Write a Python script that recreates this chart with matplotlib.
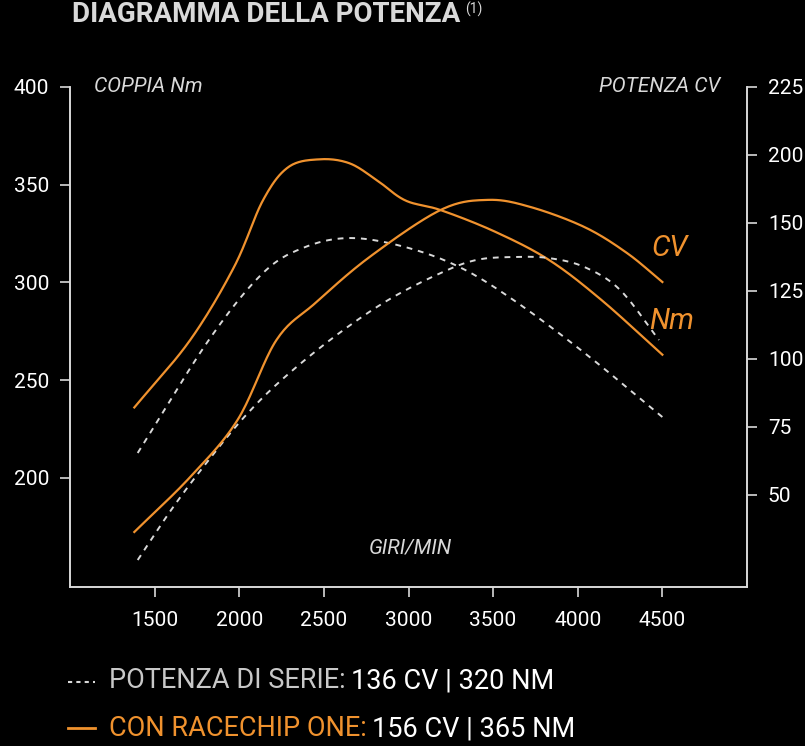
import numpy as np
import matplotlib
matplotlib.use("Agg")
import matplotlib.pyplot as plt

# Data
rpm_nm_tuned = [1380, 1710, 1970, 2140, 2290, 2475, 2650, 2810, 2980, 3190, 3510, 3830, 4140, 4500]
nm_tuned = [236, 270.5, 308, 342, 359, 363, 361, 352.5, 342, 337, 326, 311.5, 291, 263]
rpm_nm_stock = [1400, 1820, 2140, 2390, 2660, 2980, 3300, 3620, 4040, 4500]
nm_stock = [212.7, 270.5, 304.8, 318.1, 322.7, 318.1, 307.9, 291.0, 263.9, 231.1]
rpm_cv_tuned = [1380, 1710, 1990, 2220, 2450, 2770, 3190, 3470, 3720, 4040, 4290, 4500]
cv_tuned = [61.4, 81.6, 102.6, 132.0, 145.6, 162.5, 179.8, 183.5, 180.9, 173.5, 164.0, 153.3]
rpm_cv_stock = [1400, 1610, 1820, 2030, 2250, 2560, 2880, 3190, 3400, 3620, 3830, 4040, 4250, 4480]
cv_stock = [51.1, 70.6, 87.9, 103.7, 117.3, 133.1, 146.7, 156.6, 161.4, 162.5, 162.1, 158.8, 150.4, 132.0]

x_ticks = [1500, 2000, 2500, 3000, 3500, 4000, 4500]
left_ticks = [200, 250, 300, 350, 400]
right_tick_pos = [225, 200, 175, 150, 125, 100, 75]
right_tick_labels = ["225", "200", "150", "125", "100", "75", "50"]

ORANGE = "#f0922e"
GRAY = "#d9d9d9"
FONT = "Roboto"

def smooth(x, y, n=20):
    x = np.asarray(x, float); y = np.asarray(y, float)
    P = np.column_stack([x, y])
    P = np.vstack([2*P[0]-P[1], P, 2*P[-1]-P[-2]])
    out = []
    for i in range(1, len(P)-2):
        p0, p1, p2, p3 = P[i-1], P[i], P[i+1], P[i+2]
        t = np.linspace(0, 1, n, endpoint=False)[:, None]
        out.append(0.5*((2*p1) + (-p0+p2)*t + (2*p0-5*p1+4*p2-p3)*t**2 + (-p0+3*p1-3*p2+p3)*t**3))
    out.append(P[-2][None, :])
    o = np.vstack(out)
    return o[:, 0], o[:, 1]

fig = plt.figure(figsize=(8.05, 7.46), dpi=100, facecolor="black")
ax = fig.add_axes([70/805, 1-587/746, 677/805, 500/746])
ax.set_facecolor("black")
ax.set_xlim(1000, 5000)
ax.set_ylim(400 - 500*50/97.7, 400)
ax2 = ax.twinx()
ax2.set_ylim(225 - 500*25/68, 225)

for a in (ax, ax2):
    for s in a.spines.values():
        s.set_color(GRAY); s.set_linewidth(1.2)
    a.spines["top"].set_visible(False)

ax.set_xticks(x_ticks)
ax.set_xticklabels([str(t) for t in x_ticks])
ax.set_yticks(left_ticks)
ax2.set_yticks(right_tick_pos)
ax2.set_yticklabels(right_tick_labels)
ax.tick_params(axis="x", colors=GRAY, length=7, width=1.2, pad=10, labelsize=15)
ax.tick_params(axis="y", colors=GRAY, length=7, width=1.2, pad=8, labelsize=15)
ax2.tick_params(axis="y", colors=GRAY, length=7, width=1.2, pad=8, labelsize=15)
for lab in ax.get_xticklabels() + ax.get_yticklabels() + ax2.get_yticklabels():
    lab.set_fontfamily(FONT); lab.set_color("white")

x, y = smooth(rpm_nm_stock, nm_stock)
ax.plot(x, y, color=GRAY, lw=1.4, ls=(0, (3, 3)))
x, y = smooth(rpm_cv_stock, cv_stock)
ax2.plot(x, y, color=GRAY, lw=1.4, ls=(0, (3, 3)))
x, y = smooth(rpm_nm_tuned, nm_tuned)
ax.plot(x, y, color=ORANGE, lw=1.6)
x, y = smooth(rpm_cv_tuned, cv_tuned)
ax2.plot(x, y, color=ORANGE, lw=1.6)

fig.canvas.draw()
r = fig.canvas.get_renderer()

title = fig.text(72/805, 1-14/746, "DIAGRAMMA DELLA POTENZA", color=GRAY, fontfamily=FONT,
                 fontweight="bold", fontsize=20, va="center", ha="left")
tb = title.get_window_extent(renderer=r)
fig.text(tb.x1/805 + 5/805, 1-9/746, "(1)", color=GRAY, fontfamily=FONT, fontsize=10, va="center")
fig.text(94/805, 1-87/746, "COPPIA Nm", color=GRAY, fontfamily=FONT, style="italic", fontsize=15, va="center")
fig.text(720/805, 1-87/746, "POTENZA CV", color=GRAY, fontfamily=FONT, style="italic", fontsize=15, va="center", ha="right")
fig.text(410/805, 1-548/746, "GIRI/MIN", color=GRAY, fontfamily=FONT, style="italic", fontsize=15, va="center", ha="center")
fig.text(651/805, 1-248/746, "CV", color=ORANGE, fontfamily=FONT, style="italic", fontsize=21, va="center")
fig.text(649/805, 1-321/746, "Nm", color=ORANGE, fontfamily=FONT, style="italic", fontsize=21, va="center")

# legend
fig.add_artist(plt.Line2D([68/805, 95/805], [1-682/746]*2, color=GRAY, lw=1.5, ls=(0, (2, 2))))
fig.add_artist(plt.Line2D([68/805, 95/805], [1-728/746]*2, color=ORANGE, lw=2))
def two_part(y, a_txt, a_col, b_txt):
    t = fig.text(109/805, 1-y/746, a_txt, color=a_col, fontfamily=FONT, fontsize=19.5, va="center")
    bb = t.get_window_extent(renderer=r)
    fig.text(bb.x1/805 + 5/805, 1-y/746, b_txt, color="white", fontfamily=FONT, fontsize=19.5, va="center")
two_part(681, "POTENZA DI SERIE:", "#c8c8c8", "136 CV | 320 NM")
two_part(729, "CON RACECHIP ONE:", ORANGE, "156 CV | 365 NM")

fig.savefig("out.png", dpi=100, facecolor="black")
